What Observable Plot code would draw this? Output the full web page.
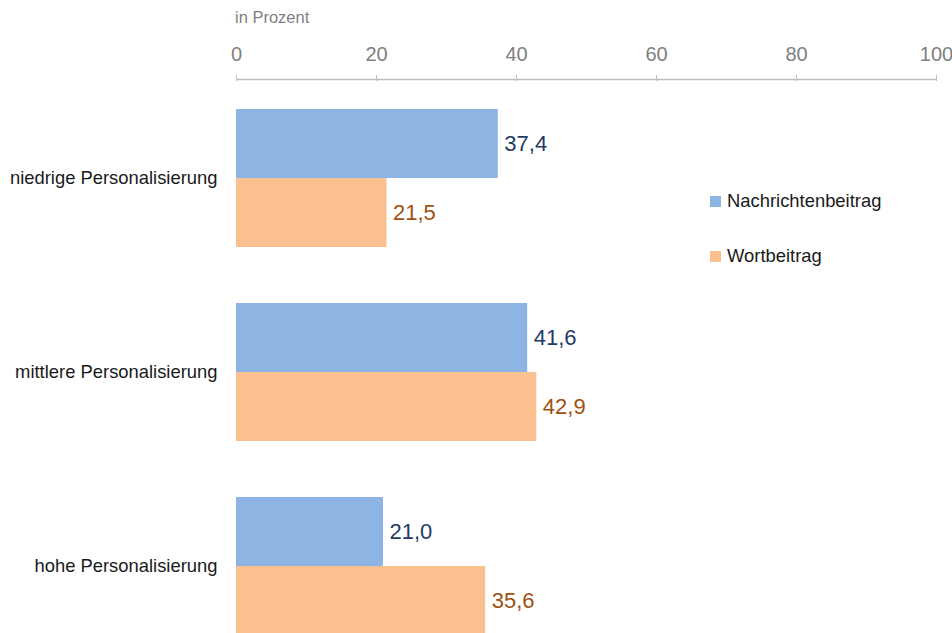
<!DOCTYPE html>
<html>
<head>
<meta charset="utf-8">
<script src="https://cdn.jsdelivr.net/npm/d3@7"></script>
<script src="https://cdn.jsdelivr.net/npm/@observablehq/plot@0.6"></script>
<style>
  html, body { margin: 0; padding: 0; background: #fff; }
  #wrap { position: relative; width: 952px; height: 633px; overflow: hidden; font-family: "Liberation Sans", Arial, sans-serif; }
  #unit { position: absolute; left: 235px; top: 8px; font-size: 16.5px; color: #7f7f7f; }
  #legend { position: absolute; left: 710px; top: 188px; font-size: 18.4px; color: #1a1a1a; }
  #legend div { display: flex; align-items: center; height: 26px; margin-bottom: 29px; }
  #legend span.sw { display: inline-block; width: 11px; height: 11px; margin-right: 6px; }
</style>
</head>
<body>
<div id="wrap">
  <div id="chart"></div>
  <div id="unit">in Prozent</div>
  <div id="legend"></div>
</div>
<script>
const categories = ["niedrige Personalisierung", "mittlere Personalisierung", "hohe Personalisierung"];
const series = ["Nachrichtenbeitrag", "Wortbeitrag"];
const nachrichten = [37.4, 41.6, 21.0];
const wort = [21.5, 42.9, 35.6];
const xTicks = [0, 20, 40, 60, 80, 100];
const colors = ["#8eb4e3", "#fac090"];
const labelColors = ["#1f3b66", "#a0500f"];

const data = [];
categories.forEach((c, i) => {
  data.push({category: c, series: series[0], value: nachrichten[i]});
  data.push({category: c, series: series[1], value: wort[i]});
});
const fmt = v => v.toFixed(1).replace(".", ",");

const plot = Plot.plot({
  width: 952,
  height: 635,
  marginLeft: 236,
  marginRight: 16,
  marginTop: 108,
  marginBottom: 0,
  style: {fontFamily: '"Liberation Sans", Arial, sans-serif', background: "transparent", overflow: "visible"},
  x: {domain: [0, 100]},
  fy: {domain: categories, paddingInner: 0.29, paddingOuter: 0},
  y: {domain: series, padding: 0, axis: null},
  color: {domain: series, range: colors},
  marks: [
    Plot.barX(data, {fy: "category", y: "series", x: "value", fill: "series"}),
    Plot.text(data, {fy: "category", y: "series", x: "value", text: d => fmt(d.value), textAnchor: "start", dx: 6, fontSize: 22,
      fill: d => labelColors[series.indexOf(d.series)]}),
    Plot.axisX({anchor: "top", ticks: xTicks, dy: -29, tickSize: 6, tickPadding: 14, fontSize: 20, color: "#7f7f7f", stroke: "#bfbfbf", label: null}),
    Plot.axisFy({anchor: "left", tickSize: 0, tickPadding: 19, fontSize: 18.4, color: "#1a1a1a", label: null})
  ]
});
// horizontal axis baseline, positioned through the plot's own x scale
const xs = plot.scale("x");
const ns = "http://www.w3.org/2000/svg";
const line = document.createElementNS(ns, "line");
line.setAttribute("x1", xs.apply(xTicks[0]));
line.setAttribute("x2", xs.apply(xTicks[xTicks.length - 1]));
line.setAttribute("y1", 79.5);
line.setAttribute("y2", 79.5);
line.setAttribute("stroke", "#bfbfbf");
line.setAttribute("stroke-width", 1.5);
plot.appendChild(line);
document.getElementById("chart").appendChild(plot);

const legend = document.getElementById("legend");
series.forEach((s, i) => {
  const row = document.createElement("div");
  row.innerHTML = `<span class="sw" style="background:${colors[i]}"></span><span>${s}</span>`;
  legend.appendChild(row);
});
</script>
</body>
</html>
